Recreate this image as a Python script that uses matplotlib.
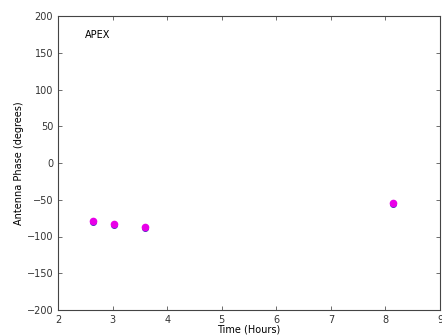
import matplotlib
matplotlib.use("Agg")
import matplotlib.pyplot as plt

times = [2.65, 3.03, 3.59, 8.13]
phase_blue = [-80, -85, -88, -56]
phase_magenta = [-79, -83, -87, -54]

plt.rcParams['xtick.direction'] = 'in'
plt.rcParams['ytick.direction'] = 'in'
plt.rcParams['xtick.top'] = True
plt.rcParams['ytick.right'] = True

fig = plt.figure(figsize=(4.42, 3.35), dpi=100)
ax = fig.add_axes([58/442, 1-310/335, (440-58)/442, (310-16)/335])
ax.plot(times, phase_blue, 'o', color='#3030b0', markersize=5, markeredgewidth=0)
ax.plot(times, phase_magenta, 'o', color='#e800e8', markersize=5.5, markeredgewidth=0)
ax.set_xlim(2, 9)
ax.set_ylim(-200, 200)
ax.set_xticks(range(2, 10))
ax.set_yticks(range(-200, 201, 50))
ax.tick_params(labelsize=7, length=3, width=0.5, colors='#333333')
for s in ax.spines.values():
    s.set_linewidth(0.8)
    s.set_color('#444444')
ax.set_xlabel('Time (Hours)', fontsize=7, labelpad=0)
ax.set_ylabel('Antenna Phase (degrees)', fontsize=7, labelpad=2)
ax.text(0.07, 0.925, 'APEX', transform=ax.transAxes, fontsize=7)
fig.savefig('out.png', dpi=100)
